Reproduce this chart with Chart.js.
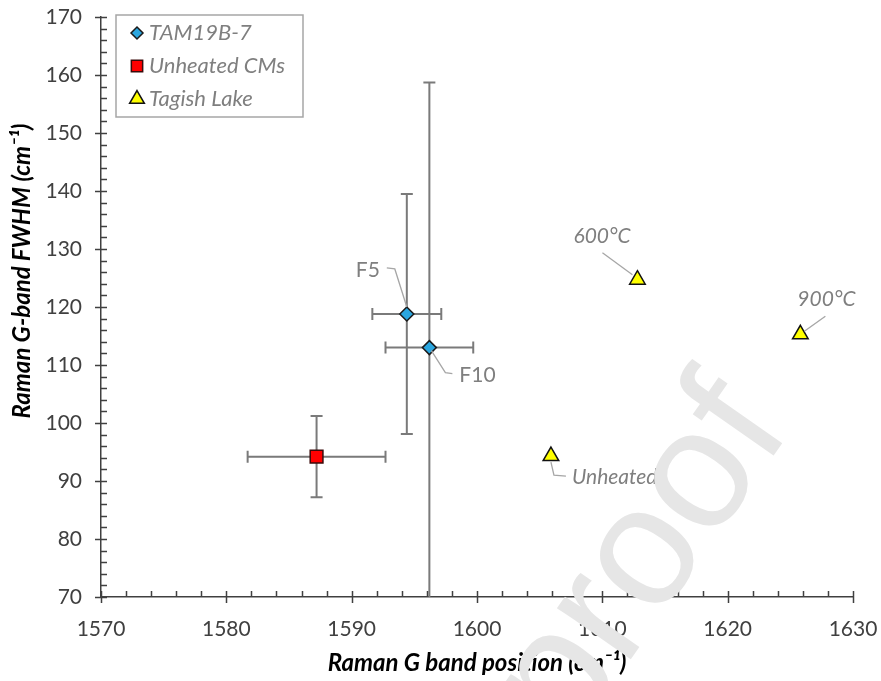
<!DOCTYPE html>
<html>
<head>
<meta charset="utf-8">
<script src="https://cdn.jsdelivr.net/npm/chart.js@4.4.1/dist/chart.umd.min.js"></script>
<style>
  html, body { margin: 0; padding: 0; background: #fff; }
  #wrap { width: 881px; height: 681px; }
</style>
</head>
<body>
<div id="wrap"><canvas id="ramanChart" width="881" height="681"></canvas></div>
<script>
// TAM19B-7 fragments
const tamNames = ['F5', 'F10'];
const tamX = [1594.4, 1596.2];
const tamY = [118.8, 113.0];
const tamXErr = [2.75, 3.5];
const tamYErr = [20.7, 45.7];

// unheated CM average
const cmX = [1587.2];
const cmY = [94.2];
const cmXErr = [5.5];
const cmYErr = [7.0];

// Tagish Lake (heating steps)
const tagNames = ['Unheated', '600°C', '900°C'];
const tagX = [1605.9, 1612.8, 1625.8];
const tagY = [94.3, 124.7, 115.3];

const seriesNames = ['TAM19B-7', 'Unheated CMs', 'Tagish Lake'];
const xTicks = [1570, 1580, 1590, 1600, 1610, 1620, 1630];
const yTicks = [70, 80, 90, 100, 110, 120, 130, 140, 150, 160, 170];
const yTitle = 'Raman G-band FWHM (cm⁻¹)';

const greyTxt = '#7f7f7f';
const axisCol = '#404040';
const fontFam = 'Lato, "Open Sans", sans-serif';

const toPts = (xs, ys) => xs.map((x, i) => ({ x: x, y: ys[i] }));

// label offsets in px from the point: text pos, leader line path
const labelStyle = {
    'F5':       { tx: -27, ty: -44, align: 'right', italic: false, path: [[-20, -46], [-12, -45], [0, -7]] },
    'F10':      { tx: 30, ty: 28, align: 'left', italic: false, path: [[2, 3], [16, 25], [23, 26]] },
    'Unheated': { tx: 21, ty: 21, align: 'left', italic: true, path: [[0, 6], [3, 19], [15, 20]] },
    '600°C':    { tx: -64, ty: -44, align: 'left', italic: true, path: [[-35, -27], [-5, -5]] },
    '900°C':    { tx: -3, ty: -35, align: 'left', italic: true, path: [[25, -18], [4, -3]] }
};

const errorBars = {
    id: 'errorBars',
    beforeDatasetsDraw(chart) {
        const { ctx, chartArea, scales: { x, y } } = chart;
        const groups = [
            { xs: tamX, ys: tamY, ex: tamXErr, ey: tamYErr },
            { xs: cmX, ys: cmY, ex: cmXErr, ey: cmYErr }
        ];
        ctx.save();
        ctx.beginPath();
        ctx.rect(chartArea.left, chartArea.top, chartArea.right - chartArea.left, chartArea.bottom - chartArea.top);
        ctx.clip();
        ctx.strokeStyle = '#7a7a7a';
        ctx.lineWidth = 2;
        const cap = 6;
        groups.forEach(g => {
            g.xs.forEach((xv, i) => {
                const px = x.getPixelForValue(xv), py = y.getPixelForValue(g.ys[i]);
                const x0 = x.getPixelForValue(xv - g.ex[i]), x1 = x.getPixelForValue(xv + g.ex[i]);
                const y0 = y.getPixelForValue(g.ys[i] - g.ey[i]), y1 = y.getPixelForValue(g.ys[i] + g.ey[i]);
                ctx.beginPath();
                ctx.moveTo(x0, py); ctx.lineTo(x1, py);
                ctx.moveTo(x0, py - cap); ctx.lineTo(x0, py + cap);
                ctx.moveTo(x1, py - cap); ctx.lineTo(x1, py + cap);
                ctx.moveTo(px, y0); ctx.lineTo(px, y1);
                ctx.moveTo(px - cap, y0); ctx.lineTo(px + cap, y0);
                ctx.moveTo(px - cap, y1); ctx.lineTo(px + cap, y1);
                ctx.stroke();
            });
        });
        ctx.restore();
    }
};

const axisTicks = {
    id: 'axisTicks',
    afterDraw(chart) {
        const { ctx, chartArea, scales: { x, y } } = chart;
        ctx.save();
        ctx.strokeStyle = axisCol;
        ctx.lineWidth = 1.5;
        ctx.beginPath();
        for (let v = x.min; v <= x.max + 0.01; v += 2) {
            const px = Math.round(x.getPixelForValue(v)) + 0.5;
            const major = Math.abs(v % 10) < 0.01;
            ctx.moveTo(px, chartArea.bottom - 6);
            ctx.lineTo(px, major ? chartArea.bottom + 6 : chartArea.bottom);
        }
        for (let v = y.min; v <= y.max + 0.01; v += 2) {
            const py = Math.round(y.getPixelForValue(v)) + 0.5;
            const major = Math.abs(v % 10) < 0.01;
            ctx.moveTo(major ? chartArea.left - 6 : chartArea.left, py);
            ctx.lineTo(chartArea.left + 6, py);
        }
        ctx.stroke();

        // y title, sits a little above the middle like the original
        ctx.translate(22, (chartArea.top + chartArea.bottom) / 2 - 36);
        ctx.rotate(-Math.PI / 2);
        ctx.fillStyle = '#000';
        ctx.font = 'italic bold 24px ' + fontFam;
        ctx.textAlign = 'center';
        ctx.textBaseline = 'middle';
        ctx.fillText(yTitle, 0, 0);
        ctx.restore();
    }
};

const pointLabels = {
    id: 'pointLabels',
    afterDatasetsDraw(chart) {
        const { ctx, scales: { x, y } } = chart;
        const items = [];
        tamNames.forEach((n, i) => items.push({ n: n, x: tamX[i], y: tamY[i] }));
        tagNames.forEach((n, i) => items.push({ n: n, x: tagX[i], y: tagY[i] }));
        ctx.save();
        items.forEach(it => {
            const s = labelStyle[it.n];
            const px = x.getPixelForValue(it.x), py = y.getPixelForValue(it.y);
            ctx.strokeStyle = '#a6a6a6';
            ctx.lineWidth = 1.3;
            ctx.beginPath();
            s.path.forEach((p, k) => k ? ctx.lineTo(px + p[0], py + p[1]) : ctx.moveTo(px + p[0], py + p[1]));
            ctx.stroke();
            ctx.fillStyle = greyTxt;
            ctx.font = (s.italic ? 'italic ' : '') + '21px ' + fontFam;
            ctx.textAlign = s.align;
            ctx.textBaseline = 'middle';
            ctx.fillText(it.n, px + s.tx, py + s.ty);
        });
        ctx.restore();
    }
};

const boxLegend = {
    id: 'boxLegend',
    afterDatasetsDraw(chart) {
        const { ctx, chartArea } = chart;
        const bx = chartArea.left + 15, by = chartArea.top - 2, bw = 187, bh = 102;
        ctx.save();
        ctx.fillStyle = '#ffffff';
        ctx.fillRect(bx, by, bw, bh);
        ctx.strokeStyle = '#a6a6a6';
        ctx.lineWidth = 1.5;
        ctx.strokeRect(bx, by, bw, bh);
        chart.data.datasets.forEach((ds, i) => {
            const cy = by + 18 + i * 33;
            const mx = bx + 21;
            ctx.fillStyle = ds.backgroundColor;
            ctx.strokeStyle = ds.borderColor;
            ctx.lineWidth = 1.5;
            Chart.helpers.drawPoint(ctx, { pointStyle: ds.pointStyle, radius: ds.legendRadius, borderWidth: 1.5 }, mx, cy);
            ctx.fillStyle = greyTxt;
            ctx.font = 'italic 22px ' + fontFam;
            ctx.textAlign = 'left';
            ctx.textBaseline = 'middle';
            ctx.fillText(ds.label, bx + 33, cy);
        });
        ctx.restore();
    }
};

const watermark = {
    id: 'watermark',
    afterDraw(chart) {
        const { ctx } = chart;
        ctx.save();
        ctx.translate(792, 429);
        ctx.rotate(-55 * Math.PI / 180);
        ctx.fillStyle = '#e6e6e6';
        ctx.font = '170px "Liberation Sans", Arial, sans-serif';
        ctx.textAlign = 'right';
        ctx.textBaseline = 'alphabetic';
        ctx.fillText('Journal Pre-proof', 0, 0);
        ctx.restore();
    }
};

// keep the plot box where the original has it (no auto label overflow padding)
const noPad = s => { s.paddingTop = 0; s.paddingBottom = 0; s.paddingLeft = 0; s.paddingRight = 0; };

new Chart(document.getElementById('ramanChart'), {
    type: 'scatter',
    data: {
        datasets: [
            {
                label: seriesNames[0], data: toPts(tamX, tamY),
                pointStyle: 'rectRot', pointRadius: 7, legendRadius: 6,
                backgroundColor: '#2ba6df', borderColor: '#1a1a1a', borderWidth: 1.5
            },
            {
                label: seriesNames[1], data: toPts(cmX, cmY),
                pointStyle: 'rect', pointRadius: 9, legendRadius: 8,
                backgroundColor: '#ff0000', borderColor: '#3a0a0a', borderWidth: 1.5
            },
            {
                label: seriesNames[2], data: toPts(tagX, tagY),
                pointStyle: 'triangle', pointRadius: 9, legendRadius: 8.5,
                backgroundColor: '#ffff00', borderColor: '#111111', borderWidth: 1.5
            }
        ]
    },
    options: {
        responsive: false,
        animation: false,
        events: [],
        layout: { padding: { left: 0, right: 28, top: 17, bottom: 0 } },
        plugins: { legend: { display: false }, tooltip: { enabled: false } },
        scales: {
            x: {
                type: 'linear', min: 1570, max: 1630,
                afterBuildTicks: s => { s.ticks = xTicks.map(v => ({ value: v })); },
                afterFit: s => { s.height = 84; noPad(s); },
                grid: { display: false, drawTicks: false },
                border: { display: true, color: axisCol, width: 1.5 },
                ticks: { color: axisCol, padding: 20, font: { family: fontFam, size: 21 }, callback: v => String(v) },
                title: {
                    display: true, text: 'Raman G band position (cm⁻¹)', color: '#000',
                    padding: { top: 0, bottom: 3 },
                    font: { family: fontFam, size: 24, weight: 'bold', style: 'italic' }
                }
            },
            y: {
                type: 'linear', min: 70, max: 170,
                afterBuildTicks: s => { s.ticks = yTicks.map(v => ({ value: v })); },
                afterFit: s => { s.width = 101; noPad(s); },
                grid: { display: false, drawTicks: false },
                border: { display: true, color: axisCol, width: 1.5 },
                ticks: { color: axisCol, padding: 19, font: { family: fontFam, size: 21 }, callback: v => String(v) },
                title: { display: false }
            }
        }
    },
    plugins: [errorBars, pointLabels, boxLegend, axisTicks, watermark]
});
</script>
</body>
</html>
